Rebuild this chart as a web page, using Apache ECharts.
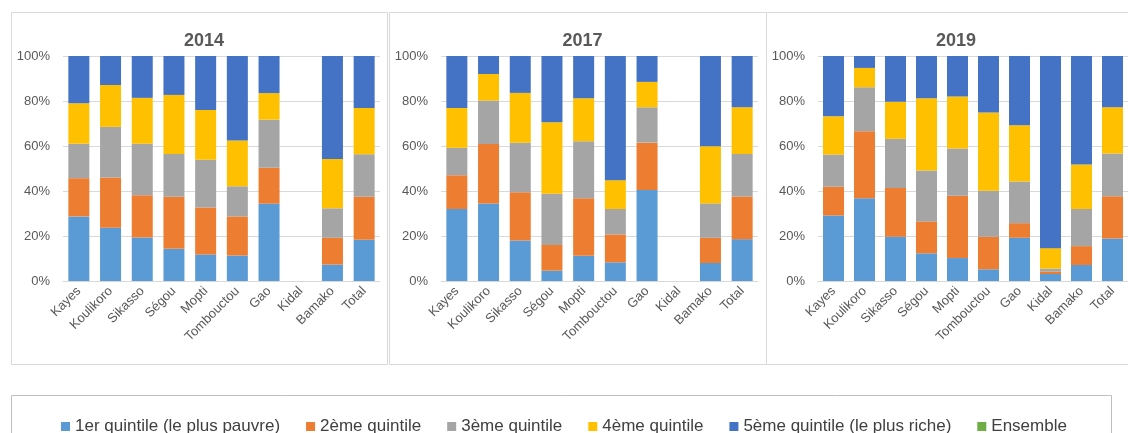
<!DOCTYPE html>
<html>
<head>
<meta charset="utf-8">
<script src="https://cdn.jsdelivr.net/npm/echarts@6/dist/echarts.min.js"></script>
<style>
  html, body { margin: 0; padding: 0; background: #ffffff; }
  #chart { width: 1128px; height: 433px; }
</style>
</head>
<body>
<div id="chart"></div>
<script>
const years = ["2014", "2017", "2019"];
const regions = ["Kayes", "Koulikoro", "Sikasso", "Ségou", "Mopti", "Tombouctou", "Gao", "Kidal", "Bamako", "Total"];
const quintiles = ["1er quintile (le plus pauvre)", "2ème quintile", "3ème quintile", "4ème quintile", "5ème quintile (le plus riche)"];
const colors = ["#5b9bd5", "#ed7d31", "#a5a5a5", "#ffc000", "#4472c4"];

// parts in %, Kidal missing in 2014 and 2017
const q1_2014 = [28.7, 23.7, 19.3, 14.3, 11.8, 11.3, 34.4, null, 7.3, 18.3];
const q2_2014 = [17.0, 22.3, 18.8, 23.2, 20.9, 17.4, 15.9, null, 11.9, 19.2];
const q3_2014 = [15.3, 22.5, 22.9, 18.9, 21.2, 13.4, 21.4, null, 13.1, 18.8];
const q4_2014 = [18.0, 18.6, 20.4, 26.3, 22.1, 20.3, 11.8, null, 21.9, 20.6];
const q5_2014 = [21.0, 12.9, 18.6, 17.3, 24.0, 37.6, 16.5, null, 45.8, 23.1];

const q1_2017 = [32.0, 34.5, 18.0, 4.6, 11.2, 8.3, 40.5, null, 8.0, 18.6];
const q2_2017 = [15.0, 26.4, 21.5, 11.4, 25.6, 12.4, 21.0, null, 11.2, 19.0];
const q3_2017 = [12.2, 19.3, 21.9, 22.8, 25.3, 11.3, 15.7, null, 15.3, 18.9];
const q4_2017 = [17.7, 11.8, 22.2, 31.8, 19.1, 12.8, 11.3, null, 25.4, 20.7];
const q5_2017 = [23.1, 8.0, 16.4, 29.4, 18.8, 55.2, 11.5, null, 40.1, 22.8];

const q1_2019 = [29.1, 36.8, 19.7, 12.3, 10.2, 5.2, 19.2, 3.1, 7.1, 18.9];
const q2_2019 = [12.8, 29.8, 21.6, 14.2, 27.7, 14.5, 6.5, 1.0, 8.4, 18.8];
const q3_2019 = [14.3, 19.5, 21.9, 22.6, 21.0, 20.4, 18.5, 1.4, 16.5, 19.0];
const q4_2019 = [17.0, 8.6, 16.5, 32.1, 23.1, 34.8, 25.0, 9.1, 19.8, 20.5];
const q5_2019 = [26.8, 5.3, 20.3, 18.8, 18.0, 25.1, 30.8, 85.4, 48.2, 22.8];

const yearData = [
  [q1_2014, q2_2014, q3_2014, q4_2014, q5_2014],
  [q1_2017, q2_2017, q3_2017, q4_2017, q5_2017],
  [q1_2019, q2_2019, q3_2019, q4_2019, q5_2019],
];

const gridLefts = [63, 441, 818];
const panelBoxes = [
  [11, 12, 376, 352],
  [389, 12, 377, 352],
  [766, 12, 370, 352],
];

const chart = echarts.init(document.getElementById("chart"));
const font = "Liberation Sans, Arial, sans-serif";

const grids = [];
const xAxes = [];
const yAxes = [];
const titles = [];
const series = [];

years.forEach((yr, p) => {
  grids.push({ left: gridLefts[p], top: 56, width: 317, height: 225 });
  xAxes.push({
    type: "category",
    gridIndex: p,
    data: regions,
    axisLine: { lineStyle: { color: "#d9d9d9" } },
    axisTick: { show: false },
    axisLabel: { rotate: 45, color: "#595959", fontSize: 13, fontFamily: font, margin: 8, interval: 0 },
  });
  yAxes.push({
    type: "value",
    gridIndex: p,
    min: 0,
    max: 100,
    interval: 20,
    axisLine: { show: false },
    axisTick: { show: false },
    splitLine: { lineStyle: { color: "#d9d9d9" } },
    axisLabel: { formatter: "{value}%", color: "#595959", fontSize: 13, fontFamily: font, margin: 13 },
  });
  const box = panelBoxes[p];
  titles.push({
    text: yr,
    left: box[0] + box[2] / 2,
    top: 27,
    textAlign: "center",
    textStyle: { fontSize: 18, fontWeight: "bold", color: "#595959", fontFamily: font },
  });
  yearData[p].forEach((vals, q) => {
    series.push({
      name: quintiles[q],
      type: "bar",
      stack: "s" + p,
      xAxisIndex: p,
      yAxisIndex: p,
      barWidth: 21,
      data: vals,
      itemStyle: { color: colors[q] },
    });
  });
});

// "Ensemble" is only in the legend
series.push({ name: "Ensemble", type: "line", xAxisIndex: 0, yAxisIndex: 0, data: [], itemStyle: { color: "#70ad47" } });

const graphics = panelBoxes.map((b) => ({
  type: "rect",
  shape: { x: b[0] + 0.5, y: b[1] + 0.5, width: b[2], height: b[3] },
  style: { fill: null, stroke: "#d9d9d9", lineWidth: 1 },
  silent: true,
}));
graphics.push({
  type: "rect",
  shape: { x: 11.5, y: 395.5, width: 1100, height: 60 },
  style: { fill: null, stroke: "#bfbfbf", lineWidth: 1 },
  silent: true,
});

chart.setOption({
  backgroundColor: "#ffffff",
  animation: false,
  title: titles,
  grid: grids,
  xAxis: xAxes,
  yAxis: yAxes,
  legend: {
    data: quintiles.concat(["Ensemble"]),
    icon: "rect",
    itemWidth: 9,
    itemHeight: 9,
    itemGap: 26,
    left: 56,
    top: 413,
    textStyle: { fontSize: 17, color: "#404040", fontFamily: font },
  },
  graphic: graphics,
  series: series,
});
</script>
</body>
</html>
